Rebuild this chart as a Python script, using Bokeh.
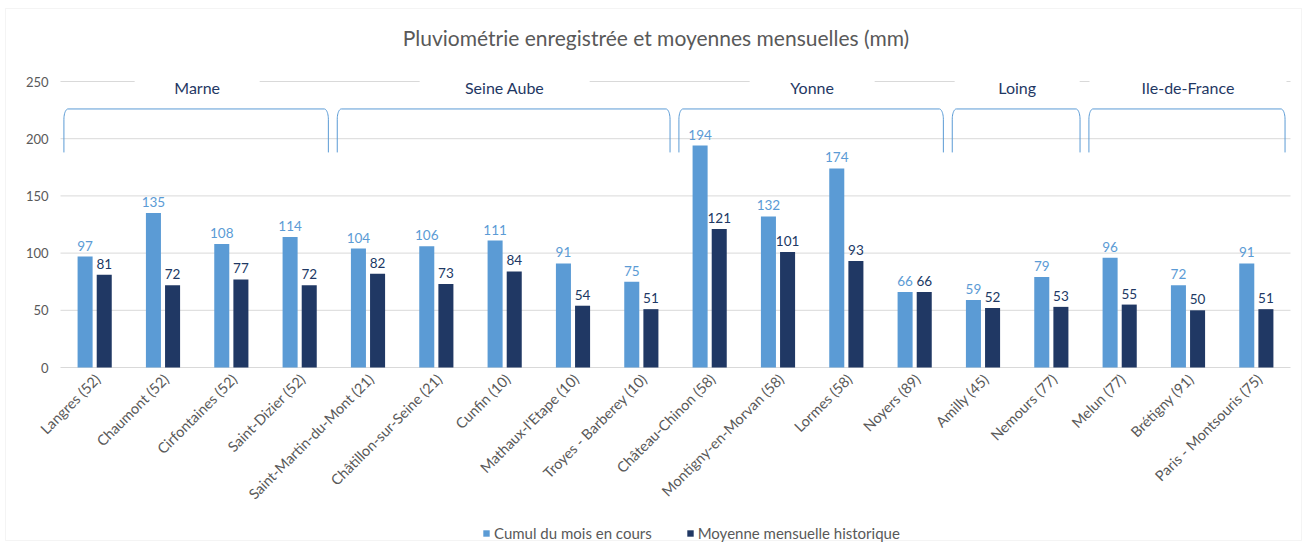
import math
import numpy as np
from bokeh.plotting import figure
from bokeh.models import Range1d, Legend, LegendItem, ColumnDataSource, BoxAnnotation
from bokeh.core.properties import value
from bokeh.embed import file_html
from bokeh.resources import INLINE

# ---- data ----
categories = ["Langres (52)", "Chaumont (52)", "Cirfontaines (52)", "Saint-Dizier (52)",
              "Saint-Martin-du-Mont (21)", "Châtillon-sur-Seine (21)", "Cunfin (10)",
              "Mathaux-l'Etape (10)", "Troyes - Barberey (10)", "Château-Chinon (58)",
              "Montigny-en-Morvan (58)", "Lormes (58)", "Noyers (89)", "Amilly (45)",
              "Nemours (77)", "Melun (77)", "Brétigny (91)", "Paris - Montsouris (75)"]
cumul = [97, 135, 108, 114, 104, 106, 111, 91, 75, 194, 132, 174, 66, 59, 79, 96, 72, 91]
moyenne = [81, 72, 77, 72, 82, 73, 84, 54, 51, 121, 101, 93, 66, 52, 53, 55, 50, 51]
groups = ["Marne", "Seine Aube", "Yonne", "Loing", "Ile-de-France"]
group_sizes = [4, 5, 4, 2, 3]
y_ticks = [0, 50, 100, 150, 200, 250]
series_names = ["Cumul du mois en cours", "Moyenne mensuelle historique"]
title_text = "Pluviométrie enregistrée et moyennes mensuelles (mm)"

# ---- style / layout ----
FONT = "Lato"
C_LIGHT = "#5B9BD5"
C_DARK = "#203864"
C_TEXT = "#595959"
C_GRID = "#D9D9D9"
OFF = 0.14
BW = 0.22
W, H = 1307, 545
PLOT_L, PLOT_R = 60, 1290      # plot area, canvas px
Y0_PX, Y250_PX = 367, 81       # canvas px of y=0 and y=250

n = len(categories)
xs = np.arange(n)
px_x = (PLOT_R - PLOT_L) / n
x_lo = -(PLOT_L / px_x) - 0.5
x_hi = x_lo + W / px_x
px_y = (Y0_PX - Y250_PX) / 250
y_lo = -(H - Y0_PX) / px_y
y_hi = Y0_PX / px_y

def cx(px):  # canvas x px -> data x
    return x_lo + px / px_x

def cy(py):  # canvas y px -> data y
    return y_hi - py / px_y

p = figure(frame_width=W, frame_height=H, x_range=Range1d(x_lo, x_hi), y_range=Range1d(y_lo, y_hi),
           output_backend="svg", toolbar_location=None,
           min_border_left=0, min_border_right=0, min_border_top=0, min_border_bottom=0)
p.outline_line_color = None
p.xaxis.visible = False
p.yaxis.visible = False
p.grid.visible = False

# chart border
p.add_layout(BoxAnnotation(left=5, right=1301, top=8, bottom=540,
                           left_units="canvas", right_units="canvas",
                           top_units="canvas", bottom_units="canvas",
                           fill_alpha=0, line_color="#D9D9D9", line_width=1))

# title
p.text(x=[cx(W / 2 + 2)], y=[cy(37)], text=[title_text], text_align="center", text_baseline="middle",
       text_font=value(FONT), text_font_size="21px", text_color=C_TEXT)

# gridlines and y tick labels
p.segment(x0=[-0.5] * len(y_ticks), x1=[n - 0.5] * len(y_ticks), y0=y_ticks, y1=y_ticks,
          line_color=C_GRID, line_width=1)
p.text(x=[-0.5] * len(y_ticks), y=y_ticks, text=[str(v) for v in y_ticks], x_offset=-12,
       text_align="right", text_baseline="middle", text_font=value(FONT),
       text_font_size="13px", text_color=C_TEXT)

# x category labels (rotated 45°)
p.text(x=xs, y=[0] * n, text=categories, angle=math.pi / 4, x_offset=3, y_offset=9,
       text_align="right", text_baseline="middle", text_font=value(FONT),
       text_font_size="14.5px", text_color=C_TEXT)

# bars
src = ColumnDataSource(dict(
    x1=xs - OFF, x2=xs + OFF, c=cumul, m=moyenne,
    tc=[str(v) for v in cumul], tm=[str(v) for v in moyenne]))

r1 = p.vbar(x="x1", top="c", width=BW, source=src, fill_color=C_LIGHT, line_color=None)
r2 = p.vbar(x="x2", top="m", width=BW, source=src, fill_color=C_DARK, line_color=None)

p.text(x="x1", y="c", text="tc", source=src, text_align="center", text_baseline="bottom",
       y_offset=-6, text_font=value(FONT), text_font_size="13.5px", text_color=C_LIGHT)
p.text(x="x2", y="m", text="tm", source=src, text_align="center", text_baseline="bottom",
       y_offset=-6, text_font=value(FONT), text_font_size="13.5px", text_color=C_DARK)

# ---- group braces ----
starts = np.cumsum([0] + group_sizes[:-1])
ends = starts + np.array(group_sizes)
top_y, bot_y = 226, 188
rx, ry = 0.06, 9
t = np.linspace(0, math.pi / 2, 12)
bx, by = [], []
mids = []
for s, e in zip(starts, ends):
    x0 = s - 0.5 + 0.05
    x1 = e - 0.5 - 0.08
    left_x = [x0] + list(x0 + rx - rx * np.cos(t))
    left_y = [bot_y] + list(top_y - ry + ry * np.sin(t))
    right_x = list(x1 - rx + rx * np.sin(t)) + [x1]
    right_y = list(top_y - ry + ry * np.cos(t)) + [bot_y]
    bx.append(left_x + right_x)
    by.append(left_y + right_y)
    mids.append((s + e) / 2 - 0.5)
p.multi_line(xs=bx, ys=by, line_color=C_LIGHT, line_width=1)

box_w = [9 * len(g) + 80 for g in groups]
p.rect(x=mids, y=[250] * len(groups), width=box_w, height=18, width_units="screen",
       height_units="screen", fill_color="white", line_color=None)
p.text(x=mids, y=[245] * len(groups), text=groups, text_align="center", text_baseline="middle",
       text_font=value(FONT), text_font_size="16px", text_color="#1F3864")

# legend (inside the canvas-wide frame, at the bottom)
legend = Legend(items=[LegendItem(label=series_names[0], renderers=[r1]),
                       LegendItem(label=series_names[1], renderers=[r2])],
                orientation="horizontal", location=(482, 3))
legend.border_line_color = None
legend.background_fill_alpha = 0
legend.label_text_font = FONT
legend.label_text_font_size = "15px"
legend.label_text_color = C_TEXT
legend.glyph_width = 8
legend.glyph_height = 8
legend.label_standoff = 4
legend.spacing = 34
legend.padding = 0
legend.margin = 0
p.add_layout(legend)

open("out.html", "w").write(file_html(p, INLINE))
